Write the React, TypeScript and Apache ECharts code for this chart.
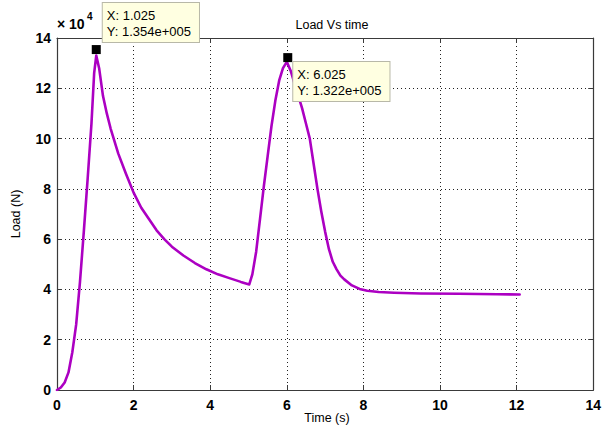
import React, { useEffect, useRef } from "react";
import * as echarts from "echarts";

// Time (s)
const times = [
  0, 0.1, 0.2, 0.3, 0.4, 0.5, 0.6, 0.7, 0.8, 0.9, 0.97, 1.025,
  1.1, 1.2, 1.3, 1.4, 1.6, 1.8, 2.0, 2.2, 2.4, 2.6, 2.8, 3.0, 3.3, 3.6, 3.9, 4.2, 4.5, 4.8, 5.02,
  5.1, 5.2, 5.3, 5.4, 5.5, 5.6, 5.7, 5.8, 5.9, 6.0,
  6.1, 6.2, 6.3, 6.4, 6.5, 6.6, 6.7, 6.8, 6.9, 7.0, 7.1, 7.2, 7.3, 7.4, 7.5, 7.7, 7.9, 8.1, 8.4, 8.8, 9.5, 10.5, 11.5, 12.08,
];
// Load (N)
const loads = [
  0, 1000, 3000, 7000, 15000, 26000, 43000, 63000, 84000, 106000, 126000, 133000,
  128000, 117000, 110000, 104000, 94000, 86000, 78500, 72500, 68000, 63500, 60000, 57000, 53500, 50500, 48000, 46000, 44500, 43000, 42000,
  46000, 55000, 68000, 81000, 93000, 105000, 115000, 123000, 128000, 130500,
  127000, 122000, 117000, 112000, 106000, 100000, 90000, 80000, 71000, 63000, 56000, 51000, 48000, 45500, 44000, 41600, 40200, 39500, 39000, 38700, 38400, 38300, 38100, 38000,
];
// Data tips
const tipX = [1.025, 6.025];
const tipY = [135400, 132200];
const tipOffsets = [
  [11, -42],
  [10, 9],
];

const xTicks = { min: 0, max: 14, interval: 2 };
const yTicks = { min: 0, max: 140000, interval: 20000 };

const tickFont = "'Liberation Sans Narrow', 'Arial Narrow', 'Liberation Sans', Arial, sans-serif";
const textFont = "'Liberation Sans', Arial, sans-serif";

function matlabExp(v: number): string {
  const [m, e] = v.toExponential(3).split("e");
  const sign = e[0] === "-" ? "-" : "+";
  const digits = e.replace(/[+-]/, "").padStart(3, "0");
  return `${m}e${sign}${digits}`;
}

export default function App() {
  const ref = useRef<HTMLDivElement>(null);
  useEffect(() => {
    if (!ref.current) return;
    const chart = echarts.init(ref.current, null, { renderer: "svg" });
    const axisColor = "#3a3a3a";
    const lineData = times.map((t, i) => [t, loads[i]]);
    const tipData = tipX.map((x, i) => ({
      value: [x, tipY[i]],
      label: {
        show: true,
        position: tipOffsets[i],
        align: "left",
        verticalAlign: "top",
        formatter: `X: ${x.toFixed(3)}\nY: ${matlabExp(tipY[i])}`,
        backgroundColor: "#ffffe1",
        borderColor: "#b8b8a8",
        borderWidth: 1,
        padding: [4, 8, 3, 4],
        lineHeight: 16,
        color: "#000",
        fontSize: 13,
        fontFamily: textFont,
      },
    }));
    chart.setOption({
      animation: false,
      backgroundColor: "#ffffff",
      title: {
        text: "Load Vs time",
        left: 327,
        textAlign: "center",
        top: 13,
        textStyle: { fontSize: 12.5, fontWeight: "normal", color: "#000", fontFamily: textFont },
      },
      grid: { left: 57, right: 6, top: 38, bottom: 45 },
      xAxis: [
        {
          type: "value",
          position: "bottom",
          ...xTicks,
          axisLine: { show: true, lineStyle: { color: axisColor, width: 1.2 } },
          axisTick: { show: true, inside: true, length: 5, lineStyle: { color: axisColor } },
          axisLabel: {
            margin: 8,
            color: "#000",
            fontSize: 14,
            fontWeight: "bold",
            fontFamily: tickFont,
          },
          splitLine: { show: true, lineStyle: { color: "#222", type: [1, 3], width: 1 } },
        },
        {
          type: "value",
          position: "top",
          ...xTicks,
          axisLine: { show: true, onZero: false, lineStyle: { color: axisColor, width: 1.2 } },
          axisTick: { show: true, inside: true, length: 5, lineStyle: { color: axisColor } },
          axisLabel: { show: false },
          splitLine: { show: false },
        },
      ],
      yAxis: [
        {
          type: "value",
          position: "left",
          ...yTicks,
          axisLine: { show: true, lineStyle: { color: axisColor, width: 1.2 } },
          axisTick: { show: true, inside: true, length: 5, lineStyle: { color: axisColor } },
          axisLabel: {
            margin: 6,
            color: "#000",
            fontSize: 14,
            fontWeight: "bold",
            fontFamily: tickFont,
            formatter: (v: number) => String(v / 10000),
          },
          splitLine: { show: true, lineStyle: { color: "#222", type: [1, 3], width: 1 } },
        },
        {
          type: "value",
          position: "right",
          ...yTicks,
          axisLine: { show: true, onZero: false, lineStyle: { color: axisColor, width: 1.2 } },
          axisTick: { show: true, inside: true, length: 5, lineStyle: { color: axisColor } },
          axisLabel: { show: false },
          splitLine: { show: false },
        },
      ],
      series: [
        {
          type: "line",
          data: lineData,
          showSymbol: false,
          smooth: false,
          lineStyle: { color: "#ac00c2", width: 2.6, join: "round", cap: "round" },
          silent: true,
        },
        {
          type: "scatter",
          data: tipData,
          symbol: "rect",
          symbolSize: 9,
          itemStyle: { color: "#000", opacity: 1 },
          silent: true,
          z: 5,
        },
      ],
      graphic: [
        {
          type: "text",
          x: 327,
          y: 418,
          style: {
            text: "Time (s)",
            align: "center",
            verticalAlign: "middle",
            fontSize: 12.5,
            fontFamily: textFont,
            fill: "#000",
          },
        },
        {
          type: "text",
          x: 16,
          y: 214,
          rotation: Math.PI / 2,
          style: {
            text: "Load (N)",
            align: "center",
            verticalAlign: "middle",
            fontSize: 12.5,
            fontFamily: textFont,
            fill: "#000",
          },
        },
        {
          type: "text",
          x: 57,
          y: 31,
          style: {
            text: "× 10",
            align: "left",
            verticalAlign: "bottom",
            fontSize: 14,
            fontWeight: "bold",
            fontFamily: tickFont,
            fill: "#000",
          },
        },
        {
          type: "text",
          x: 87,
          y: 21,
          style: {
            text: "4",
            align: "left",
            verticalAlign: "bottom",
            fontSize: 10,
            fontWeight: "bold",
            fontFamily: tickFont,
            fill: "#000",
          },
        },
      ],
    });
    return () => chart.dispose();
  }, []);
  return (
    <div
      ref={ref}
      style={{ position: "fixed", left: 0, top: 0, width: 604, height: 435, background: "#fff" }}
    />
  );
}
